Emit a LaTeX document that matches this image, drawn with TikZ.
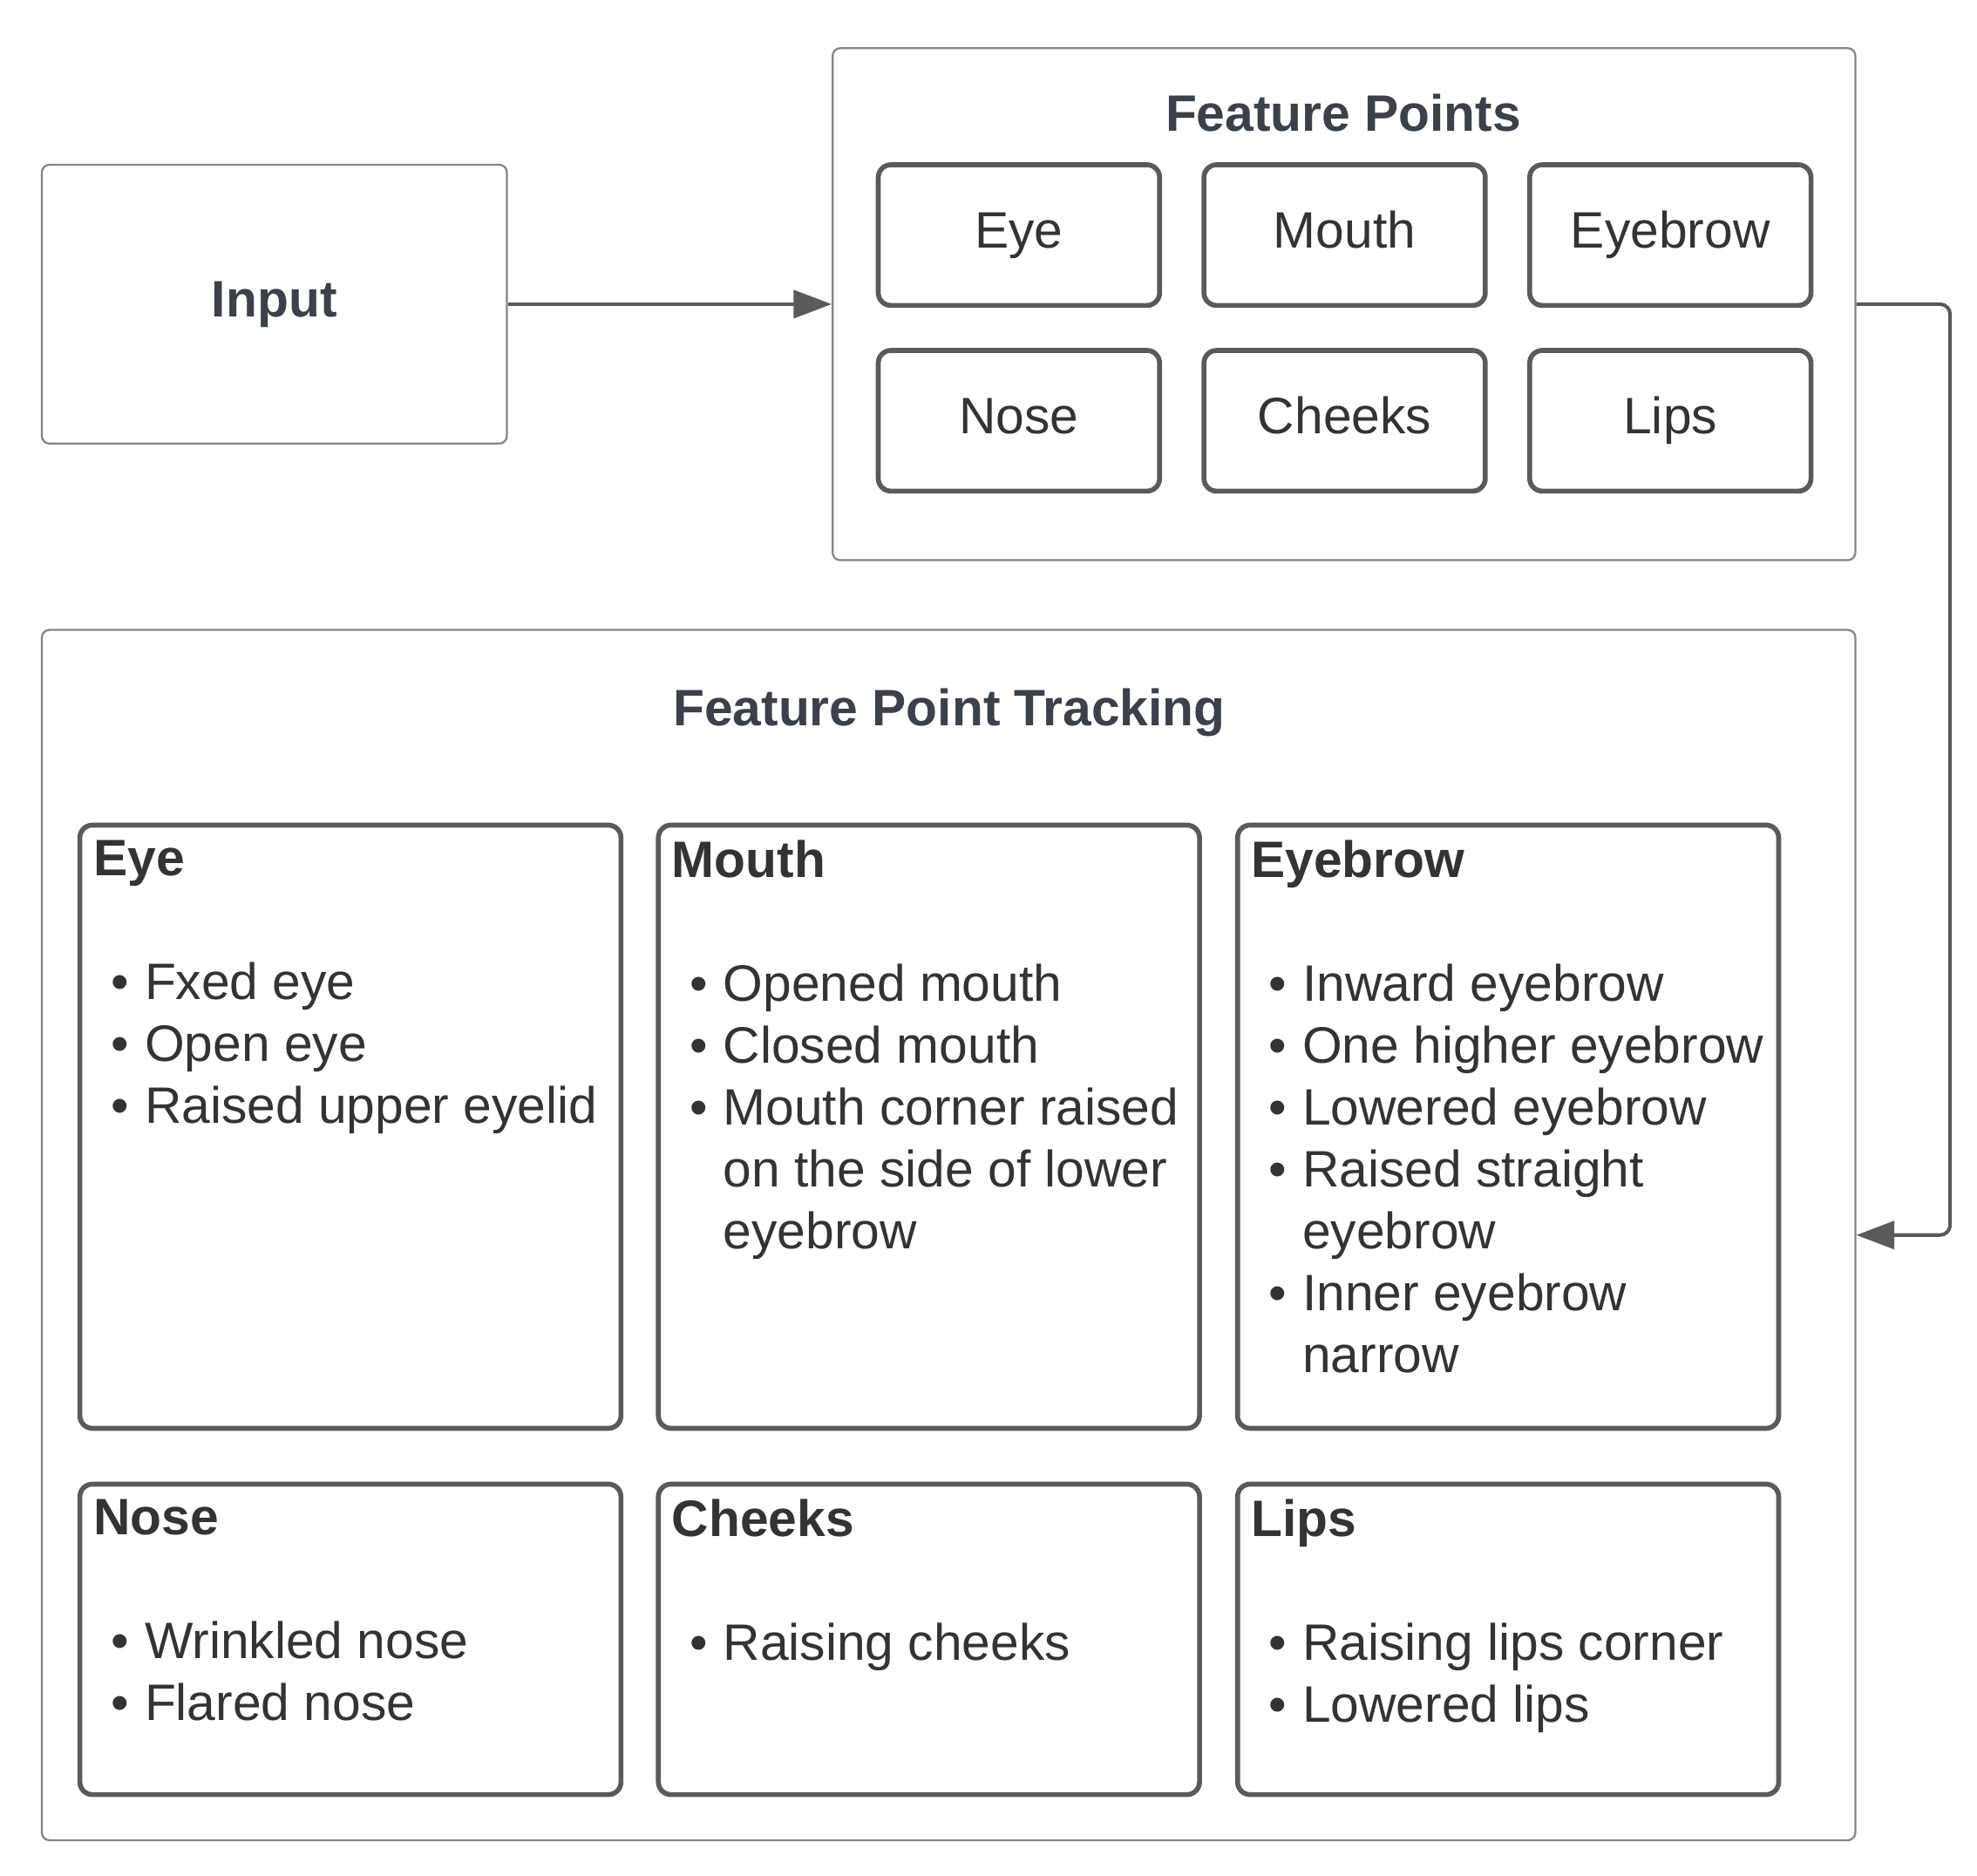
\documentclass[tikz,border=0pt]{standalone}
\usepackage{fontspec}
\setmainfont{Liberation Sans}
\usetikzlibrary{positioning,arrows.meta}

\definecolor{boxline}{HTML}{5A5A5A}
\definecolor{frameline}{HTML}{858585}
\definecolor{ttltext}{HTML}{3A414A}
\definecolor{bodytext}{HTML}{333333}

\newcommand{\bul}{\hspace*{4pt}\makebox[7.5pt][l]{\textbullet}}
\newcommand{\cnt}{\hspace*{11.5pt}}

\tikzset{
  frame/.style={draw=frameline, line width=0.45pt, rounded corners=0.6mm, fill=white},
  fpbox/.style={draw=boxline, line width=1.1pt, rounded corners=1mm, minimum width=22.2mm, minimum height=11.1mm,
    text height=8.2pt, text depth=2.4pt, text=bodytext},
  trkbox/.style={draw=boxline, line width=1.1pt, rounded corners=1mm, minimum width=42.7mm},
  ttl/.style={font=\fontsize{11.5}{13.9}\selectfont\bfseries, text=ttltext},
  trktxt/.style={align=left, inner sep=0pt, text=bodytext},
  conn/.style={draw=boxline, line width=0.8pt, -{Triangle[length=3mm,width=2.2mm]}}
}

\begin{document}
\begin{tikzpicture}[x=0.1mm, y=-0.1mm, every node/.style={font=\fontsize{11.5}{13.9}\selectfont}]
\useasboundingbox (0,0) rectangle (1560,1480);

% input and feature points
\node[frame, minimum width=36.7mm, minimum height=22mm] (in) at (216.5,240) {};
\node[ttl] (inTtl) at (in) {Input};
\node[frame, minimum width=80.7mm, minimum height=40.4mm] (fp) at (1060.5,240) {};
\node[ttl] (fpTtl) at (1060,89) {Feature Points};
\node[fpbox] (fpEye) at (804,185.5) {Eye};
\node[fpbox] (fpMouth) at (1061,185.5) {Mouth};
\node[fpbox] (fpBrow) at (1318,185.5) {Eyebrow};
\node[fpbox] (fpNose) at (804,332) {Nose};
\node[fpbox] (fpCheeks) at (1061,332) {Cheeks};
\node[fpbox] (fpLips) at (1318,332) {Lips};

% tracking
\node[frame, minimum width=143.1mm, minimum height=95.5mm] (trk) at (748.5,974.5) {};
\node[ttl] (trkTtl) at (749,562) {Feature Point Tracking};

\node[trkbox, minimum height=47.6mm] (tEye) at (276.5,889) {};
\node[trkbox, minimum height=47.6mm] (tMouth) at (733,889) {};
\node[trkbox, minimum height=47.6mm] (tBrow) at (1190,889) {};
\node[trkbox, minimum height=24.5mm] (tNose) at (276.5,1293.5) {};
\node[trkbox, minimum height=24.5mm] (tCheeks) at (733,1293.5) {};
\node[trkbox, minimum height=24.5mm] (tLips) at (1190,1293.5) {};

\node[trktxt, below right=1.3mm and 1.2mm of tEye.north west] (eyeTxt) {\textbf{Eye}\\[13.9pt]
  \bul Fxed eye\\ \bul Open eye\\ \bul Raised upper eyelid};
\node[trktxt, below right=1.3mm and 1.2mm of tMouth.north west] (mouthTxt) {\textbf{Mouth}\\[13.9pt]
  \bul Opened mouth\\ \bul Closed mouth\\ \bul Mouth corner raised\\ \cnt on the side of lower\\ \cnt eyebrow};
\node[trktxt, below right=1.3mm and 1.2mm of tBrow.north west] (browTxt) {\textbf{Eyebrow}\\[13.9pt]
  \bul Inward eyebrow\\ \bul One higher eyebrow\\ \bul Lowered eyebrow\\ \bul Raised straight\\ \cnt eyebrow\\
  \bul Inner eyebrow\\ \cnt narrow};
\node[trktxt, below right=1.3mm and 1.2mm of tNose.north west] (noseTxt) {\textbf{Nose}\\[13.9pt]
  \bul Wrinkled nose\\ \bul Flared nose};
\node[trktxt, below right=1.3mm and 1.2mm of tCheeks.north west] (cheeksTxt) {\textbf{Cheeks}\\[13.9pt]
  \bul Raising cheeks};
\node[trktxt, below right=1.3mm and 1.2mm of tLips.north west] (lipsTxt) {\textbf{Lips}\\[13.9pt]
  \bul Raising lips corner\\ \bul Lowered lips};

% connectors
\draw[conn] (in.east) -- (fp.west);
\draw[conn, rounded corners=0.8mm] (fp.east) -- ++(74,0) |- (trk.east);
\end{tikzpicture}
\end{document}
